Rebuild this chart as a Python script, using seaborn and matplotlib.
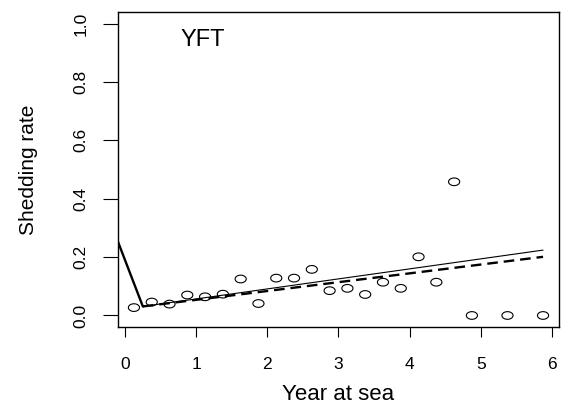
import numpy as np
import pandas as pd
import matplotlib
matplotlib.use("Agg")
import matplotlib.pyplot as plt
from matplotlib.path import Path
import seaborn as sns

# Observed shedding rate by quarter-year at sea (midpoints)
years = [0.125, 0.375, 0.625, 0.875, 1.125, 1.375, 1.625, 1.875,
         2.125, 2.375, 2.625, 2.875, 3.125, 3.375, 3.625, 3.875,
         4.125, 4.375, 4.625, 4.875, 5.375, 5.875]
rates = [0.027, 0.046, 0.039, 0.070, 0.064, 0.073, 0.125, 0.041,
         0.128, 0.128, 0.158, 0.085, 0.093, 0.072, 0.114, 0.093,
         0.201, 0.114, 0.458, 0.0, 0.0, 0.0]

# Fitted models: immediate shedding drop, then two chronic-shedding trends
drop_x = [-0.1, 0.25]
drop_y = [0.253, 0.031]
trend_x = [0.25, 5.875]
trend_solid = [0.031, 0.224]
trend_dashed = [0.031, 0.201]

x_ticks = [0, 1, 2, 3, 4, 5, 6]
y_ticks = [0.0, 0.2, 0.4, 0.6, 0.8, 1.0]
y_tick_labels = ["0.0", "0.2", "0.4", "0.6", "0.8", "1.0"]

sns.set_style("ticks")
plt.rcParams["font.family"] = ["Liberation Sans", "DejaVu Sans"]
plt.rcParams.update({"text.color": "black", "axes.labelcolor": "black",
                     "xtick.color": "black", "ytick.color": "black",
                     "axes.edgecolor": "black"})

points = pd.DataFrame({"year": years, "rate": rates})
drop = pd.DataFrame({"year": drop_x, "rate": drop_y})
trend = pd.DataFrame({"year": trend_x, "solid": trend_solid,
                      "dashed": trend_dashed})

fig = plt.figure(figsize=(5.67, 4.11), dpi=100)
ax = fig.add_subplot(111)
fig.subplots_adjust(left=0.208, right=0.986, bottom=0.204, top=0.971)

# slightly wide open ellipse marker
theta = np.linspace(0, 2 * np.pi, 60)
ellipse = Path(np.column_stack([1.45 * np.cos(theta), np.sin(theta)]),
               closed=True)

sns.lineplot(data=drop, x="year", y="rate", ax=ax, color="black",
             linewidth=1.7, estimator=None, errorbar=None, sort=False)
sns.lineplot(data=trend, x="year", y="solid", ax=ax, color="black",
             linewidth=0.8, estimator=None, errorbar=None, sort=False)
sns.lineplot(data=trend, x="year", y="dashed", ax=ax, color="black",
             linewidth=1.7, linestyle=(0, (4.5, 2.5)),
             estimator=None, errorbar=None, sort=False)
sns.scatterplot(data=points, x="year", y="rate", ax=ax, marker=ellipse,
                s=64, facecolor="none", edgecolor="black", linewidth=0.8,
                zorder=3)

ax.set_xlim(-0.1, 6.1)
ax.set_ylim(-0.04, 1.04)
ax.set_xticks(x_ticks)
ax.set_yticks(y_ticks)
ax.set_yticklabels(y_tick_labels)

for side in ["left", "right", "top", "bottom"]:
    ax.spines[side].set_visible(True)
    ax.spines[side].set_linewidth(1.0)
    ax.spines[side].set_color("black")

ax.tick_params(axis="x", length=7.5, width=0.8, pad=14, labelsize=12.5,
               colors="black")
ax.tick_params(axis="y", length=11, width=0.8, pad=10, labelsize=12.5,
               colors="black", labelrotation=90)
plt.setp(ax.get_yticklabels(), va="center")

ax.set_xlabel("Year at sea", fontsize=16, va="center", color="black")
ax.set_ylabel("Shedding rate", fontsize=15, va="center", color="black")
ax.xaxis.set_label_coords(0.5, (327 - 394) / 315)
ax.yaxis.set_label_coords((29 - 118) / 441, 0.5)

ax.text(0.193, 0.911, "YFT", transform=ax.transAxes, fontsize=17,
        ha="center", va="center", color="black")

fig.savefig("out.png", dpi=100)
